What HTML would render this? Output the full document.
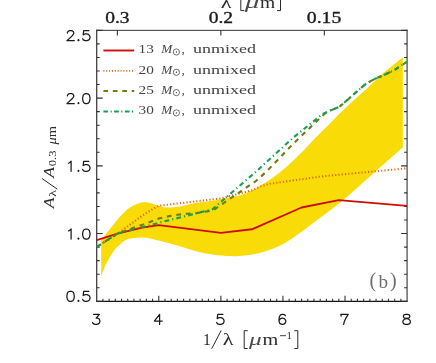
<!DOCTYPE html>
<html><head><meta charset="utf-8"><title>chart</title>
<style>html,body{margin:0;padding:0;background:#fff;font-family:"Liberation Sans",sans-serif}svg{display:block;will-change:transform}</style>
</head><body>
<svg width="436" height="363" viewBox="0 0 436 363">
<rect width="436" height="363" fill="#fff"/>
<polyline points="103.4,50.5 134.2,50.5" fill="none" stroke="#cc0c0c" stroke-width="1.90" stroke-linejoin="round"/>
<polyline points="103.4,70.8 134.2,70.8" fill="none" stroke="#e2641a" stroke-width="1.80" stroke-dasharray="1 1.86" stroke-linejoin="round"/>
<polyline points="103.4,91.1 134.2,91.1" fill="none" stroke="#77780e" stroke-width="2.00" stroke-dasharray="4.7 4.74" stroke-linejoin="round"/>
<polyline points="103.4,111.4 134.2,111.4" fill="none" stroke="#14a058" stroke-width="2.00" stroke-dasharray="4.7 2.4 1.2 2.4" stroke-linejoin="round"/>
<path d="M96.00 30.35H407.85" stroke="#333" stroke-width="1.0" fill="none"/>
<path d="M96.00 301.30H407.85" stroke="#151515" stroke-width="1.2" fill="none"/>
<path d="M96.70 29.80V301.95" stroke="#3a3a3a" stroke-width="1.25" fill="none"/>
<path d="M407.10 29.80V301.95" stroke="#585858" stroke-width="1.35" fill="none"/>
<path d="M102.91 301.30v-2.50 M109.12 301.30v-2.50 M115.32 301.30v-2.50 M121.53 301.30v-2.50 M127.74 301.30v-2.50 M133.95 301.30v-2.50 M140.16 301.30v-2.50 M146.36 301.30v-2.50 M152.57 301.30v-2.50 M158.78 301.30v-5.50 M164.99 301.30v-2.50 M171.20 301.30v-2.50 M177.40 301.30v-2.50 M183.61 301.30v-2.50 M189.82 301.30v-2.50 M196.03 301.30v-2.50 M202.24 301.30v-2.50 M208.44 301.30v-2.50 M214.65 301.30v-2.50 M220.86 301.30v-5.50 M227.07 301.30v-2.50 M233.28 301.30v-2.50 M239.48 301.30v-2.50 M245.69 301.30v-2.50 M251.90 301.30v-2.50 M258.11 301.30v-2.50 M264.32 301.30v-2.50 M270.52 301.30v-2.50 M276.73 301.30v-2.50 M282.94 301.30v-5.50 M289.15 301.30v-2.50 M295.36 301.30v-2.50 M301.56 301.30v-2.50 M307.77 301.30v-2.50 M313.98 301.30v-2.50 M320.19 301.30v-2.50 M326.40 301.30v-2.50 M332.60 301.30v-2.50 M338.81 301.30v-2.50 M345.02 301.30v-5.50 M351.23 301.30v-2.50 M357.44 301.30v-2.50 M363.64 301.30v-2.50 M369.85 301.30v-2.50 M376.06 301.30v-2.50 M382.27 301.30v-2.50 M388.48 301.30v-2.50 M394.68 301.30v-2.50 M400.89 301.30v-2.50 M96.70 301.30h6.00 M407.10 301.30h-6.00 M96.70 287.75h3.00 M407.10 287.75h-3.00 M96.70 274.21h3.00 M407.10 274.21h-3.00 M96.70 260.66h3.00 M407.10 260.66h-3.00 M96.70 247.11h3.00 M407.10 247.11h-3.00 M96.70 233.56h6.00 M407.10 233.56h-6.00 M96.70 220.01h3.00 M407.10 220.01h-3.00 M96.70 206.47h3.00 M407.10 206.47h-3.00 M96.70 192.92h3.00 M407.10 192.92h-3.00 M96.70 179.37h3.00 M407.10 179.37h-3.00 M96.70 165.83h6.00 M407.10 165.83h-6.00 M96.70 152.28h3.00 M407.10 152.28h-3.00 M96.70 138.73h3.00 M407.10 138.73h-3.00 M96.70 125.18h3.00 M407.10 125.18h-3.00 M96.70 111.63h3.00 M407.10 111.63h-3.00 M96.70 98.09h6.00 M407.10 98.09h-6.00 M96.70 84.54h3.00 M407.10 84.54h-3.00 M96.70 70.99h3.00 M407.10 70.99h-3.00 M96.70 57.45h3.00 M407.10 57.45h-3.00 M96.70 43.90h3.00 M407.10 43.90h-3.00 M96.70 30.35h6.00 M407.10 30.35h-6.00 M117.39 30.35v5.2 M220.86 30.35v5.2 M324.33 30.35v5.2" stroke="#333" stroke-width="1.1" fill="none"/>
<path d="M101.2 240.0C101.7 239.4 102.9 237.9 104.2 236.2C105.5 234.5 107.5 232.0 109.1 230.0C110.7 228.0 111.9 226.5 114.0 224.0C116.1 221.5 118.8 217.8 121.5 215.0C124.2 212.2 127.2 209.4 130.0 207.5C132.8 205.6 135.6 204.4 138.0 203.5C140.4 202.6 142.5 202.3 144.5 202.2C146.5 202.1 147.8 202.4 150.0 203.0C152.2 203.6 155.2 204.8 158.0 205.5C160.8 206.2 163.1 207.3 166.8 207.5C170.5 207.7 175.1 207.2 180.0 206.5C184.9 205.8 190.3 204.0 196.0 203.0C201.7 202.0 209.1 201.3 213.9 200.5C218.7 199.7 221.1 199.1 225.0 198.3C228.9 197.6 234.0 196.8 237.3 196.0C240.7 195.2 242.0 194.7 245.1 193.4C248.2 192.1 252.7 190.0 256.0 188.2C259.3 186.4 261.4 185.1 265.0 182.8C268.6 180.5 273.6 177.2 277.5 174.2C281.4 171.2 284.0 169.1 288.5 165.0C293.0 160.9 300.0 154.1 304.6 149.5C309.2 144.9 311.2 142.2 316.0 137.3C320.8 132.4 328.4 124.9 333.4 119.9C338.4 114.9 339.6 113.5 346.0 107.5C352.4 101.5 366.1 89.2 372.0 83.8C377.9 78.3 376.3 79.2 381.4 74.8C386.5 70.4 399.2 60.2 402.8 57.3L402.8 147.6C398.1 151.7 384.7 163.4 374.5 172.4C364.3 181.4 350.8 193.6 341.4 201.4C332.0 209.2 325.1 213.9 317.9 219.4C310.7 224.9 303.5 230.4 298.0 234.3C292.5 238.2 289.4 240.5 285.0 243.0C280.6 245.5 276.6 247.4 271.6 249.2C266.6 251.0 260.5 252.9 255.0 254.0C249.5 255.1 242.7 255.7 238.5 256.0C234.3 256.4 234.4 256.4 230.0 256.1C225.6 255.8 218.7 255.4 212.3 254.4C205.9 253.4 199.2 251.9 191.6 249.9C184.0 247.9 173.7 244.5 166.8 242.6C159.9 240.7 153.5 239.3 150.0 238.5C146.5 237.7 147.7 238.0 146.0 237.8C144.3 237.6 142.0 237.5 140.0 237.5C138.0 237.5 135.8 237.8 134.0 238.0C132.2 238.2 130.4 238.4 129.0 238.8C127.5 239.2 126.5 239.7 125.3 240.3C124.1 240.9 123.0 241.7 122.0 242.5C121.0 243.3 120.3 244.2 119.5 244.9C118.7 245.7 117.9 246.0 117.0 247.0C116.1 248.0 115.0 249.5 114.0 250.8C113.0 252.1 112.0 253.5 111.0 255.0C110.0 256.5 109.3 258.2 108.3 260.0C107.3 261.8 106.0 263.7 105.0 266.0C104.0 268.3 102.9 271.9 102.3 273.6C101.7 275.4 101.4 276.0 101.2 276.5Z" fill="#f9dc07"/>
<polyline points="96.8,240.1 117.5,233.6 142.0,227.6 158.8,225.1 220.9,232.9 251.9,229.3 301.5,207.5 338.8,200.1 407.0,205.9" fill="none" stroke="#cc0c0c" stroke-width="1.90" stroke-linejoin="round"/>
<polyline points="96.8,246.9 118.3,233.2 130.0,224.6 141.3,216.4 150.0,210.6 158.8,205.7 220.9,198.4 251.9,190.3 261.0,186.4 268.3,184.0 286.7,181.3 305.0,178.8 323.4,176.2 359.2,172.8 407.0,168.3" fill="none" stroke="#e2641a" stroke-width="2.00" stroke-dasharray="1.2 2.1" stroke-linejoin="round"/>
<polyline points="96.8,246.9 117.5,233.6 150.0,222.0 158.8,218.6 168.0,216.4 177.5,214.8 187.0,213.7 197.0,213.0 205.0,211.8 213.0,210.3 256.0,181.0 266.5,171.5 294.0,143.0 313.8,124.0 324.9,113.5 330.0,110.6 339.2,107.0 348.3,99.2 357.5,90.9 366.7,83.1 375.9,78.4 385.0,74.5 394.2,70.2 403.0,64.4 407.0,61.8" fill="none" stroke="#77780e" stroke-width="2.10" stroke-dasharray="4.8 4.8" stroke-linejoin="round"/>
<polyline points="96.8,246.9 117.5,233.6 140.0,227.5 150.0,225.3 158.8,222.8 212.5,209.2 256.0,171.6 294.0,137.0 322.7,113.9 330.0,110.6 339.2,107.0 348.3,99.2 357.5,90.9 366.7,83.1 375.9,78.4 385.0,74.5 394.2,70.2 403.0,64.4 407.0,61.8" fill="none" stroke="#14a058" stroke-width="2.10" stroke-dasharray="4.8 3.1 1.2 3.1" stroke-linejoin="round"/>
<path d="M67.42 33.01 L67.42 32.53 L67.95 31.57 L68.48 31.09 L69.53 30.61 L71.62 30.61 L72.67 31.09 L73.20 31.57 L73.73 32.53 L73.73 33.49 L73.20 34.45 L72.15 35.89 L66.90 40.69 L74.25 40.69 M78.45 39.73 L77.93 40.21 L78.45 40.69 L78.98 40.21 L78.45 39.73 M88.95 30.61 L83.70 30.61 L83.18 34.93 L83.70 34.45 L85.28 33.97 L86.85 33.97 L88.43 34.45 L89.48 35.41 L90.00 36.85 L90.00 37.81 L89.48 39.25 L88.43 40.21 L86.85 40.69 L85.28 40.69 L83.70 40.21 L83.18 39.73 L82.65 38.77" fill="none" stroke="#1a1a1a" stroke-width="1.25" stroke-linecap="round" stroke-linejoin="round"/>
<path d="M67.42 95.95 L67.42 95.47 L67.95 94.51 L68.48 94.03 L69.53 93.55 L71.62 93.55 L72.67 94.03 L73.20 94.51 L73.73 95.47 L73.73 96.43 L73.20 97.39 L72.15 98.83 L66.90 103.63 L74.25 103.63 M78.45 102.67 L77.93 103.15 L78.45 103.63 L78.98 103.15 L78.45 102.67 M85.80 93.55 L84.23 94.03 L83.18 95.47 L82.65 97.87 L82.65 99.31 L83.18 101.71 L84.23 103.15 L85.80 103.63 L86.85 103.63 L88.43 103.15 L89.48 101.71 L90.00 99.31 L90.00 97.87 L89.48 95.47 L88.43 94.03 L86.85 93.55 L85.80 93.55" fill="none" stroke="#1a1a1a" stroke-width="1.25" stroke-linecap="round" stroke-linejoin="round"/>
<path d="M68.48 163.21 L69.53 162.73 L71.10 161.28 L71.10 171.37 M78.45 170.41 L77.93 170.89 L78.45 171.37 L78.98 170.89 L78.45 170.41 M88.95 161.28 L83.70 161.28 L83.18 165.61 L83.70 165.12 L85.28 164.65 L86.85 164.65 L88.43 165.12 L89.48 166.09 L90.00 167.53 L90.00 168.49 L89.48 169.93 L88.43 170.89 L86.85 171.37 L85.28 171.37 L83.70 170.89 L83.18 170.41 L82.65 169.45" fill="none" stroke="#1a1a1a" stroke-width="1.25" stroke-linecap="round" stroke-linejoin="round"/>
<path d="M68.48 230.94 L69.53 230.46 L71.10 229.02 L71.10 239.10 M78.45 238.14 L77.93 238.62 L78.45 239.10 L78.98 238.62 L78.45 238.14 M85.80 229.02 L84.23 229.50 L83.18 230.94 L82.65 233.34 L82.65 234.78 L83.18 237.18 L84.23 238.62 L85.80 239.10 L86.85 239.10 L88.43 238.62 L89.48 237.18 L90.00 234.78 L90.00 233.34 L89.48 230.94 L88.43 229.50 L86.85 229.02 L85.80 229.02" fill="none" stroke="#1a1a1a" stroke-width="1.25" stroke-linecap="round" stroke-linejoin="round"/>
<path d="M70.05 291.26 L68.48 291.74 L67.42 293.18 L66.90 295.58 L66.90 297.02 L67.42 299.42 L68.48 300.86 L70.05 301.34 L71.10 301.34 L72.67 300.86 L73.73 299.42 L74.25 297.02 L74.25 295.58 L73.73 293.18 L72.67 291.74 L71.10 291.26 L70.05 291.26 M78.45 300.38 L77.93 300.86 L78.45 301.34 L78.98 300.86 L78.45 300.38 M88.95 291.26 L83.70 291.26 L83.18 295.58 L83.70 295.10 L85.28 294.62 L86.85 294.62 L88.43 295.10 L89.48 296.06 L90.00 297.50 L90.00 298.46 L89.48 299.90 L88.43 300.86 L86.85 301.34 L85.28 301.34 L83.70 300.86 L83.18 300.38 L82.65 299.42" fill="none" stroke="#1a1a1a" stroke-width="1.25" stroke-linecap="round" stroke-linejoin="round"/>
<path d="M93.58 314.36 L99.35 314.36 L96.20 318.20 L97.78 318.20 L98.83 318.68 L99.35 319.16 L99.88 320.60 L99.88 321.56 L99.35 323.00 L98.30 323.96 L96.73 324.44 L95.15 324.44 L93.58 323.96 L93.05 323.48 L92.53 322.52" fill="none" stroke="#1a1a1a" stroke-width="1.25" stroke-linecap="round" stroke-linejoin="round"/>
<path d="M159.59 314.36 L154.34 321.08 L162.22 321.08 M159.59 314.36 L159.59 324.44" fill="none" stroke="#1a1a1a" stroke-width="1.25" stroke-linecap="round" stroke-linejoin="round"/>
<path d="M222.99 314.36 L217.74 314.36 L217.21 318.68 L217.74 318.20 L219.31 317.72 L220.89 317.72 L222.46 318.20 L223.51 319.16 L224.04 320.60 L224.04 321.56 L223.51 323.00 L222.46 323.96 L220.89 324.44 L219.31 324.44 L217.74 323.96 L217.21 323.48 L216.69 322.52" fill="none" stroke="#1a1a1a" stroke-width="1.25" stroke-linecap="round" stroke-linejoin="round"/>
<path d="M285.33 315.80 L284.80 314.84 L283.23 314.36 L282.18 314.36 L280.60 314.84 L279.55 316.28 L279.03 318.68 L279.03 321.08 L279.55 323.00 L280.60 323.96 L282.18 324.44 L282.70 324.44 L284.28 323.96 L285.33 323.00 L285.85 321.56 L285.85 321.08 L285.33 319.64 L284.28 318.68 L282.70 318.20 L282.18 318.20 L280.60 318.68 L279.55 319.64 L279.03 321.08" fill="none" stroke="#1a1a1a" stroke-width="1.25" stroke-linecap="round" stroke-linejoin="round"/>
<path d="M341.16 316.04 L340.85 314.36 L348.20 314.36 L345.57 318.68 L344.15 322.04 L343.63 324.44" fill="none" stroke="#1a1a1a" stroke-width="1.25" stroke-linecap="round" stroke-linejoin="round"/>
<path d="M405.55 314.36 L403.98 314.84 L403.45 315.80 L403.45 316.76 L403.98 317.72 L405.03 318.20 L407.12 318.68 L408.70 319.16 L409.75 320.12 L410.28 321.08 L410.28 322.52 L409.75 323.48 L409.23 323.96 L407.65 324.44 L405.55 324.44 L403.98 323.96 L403.45 323.48 L402.93 322.52 L402.93 321.08 L403.45 320.12 L404.50 319.16 L406.08 318.68 L408.18 318.20 L409.23 317.72 L409.75 316.76 L409.75 315.80 L409.23 314.84 L407.65 314.36 L405.55 314.36" fill="none" stroke="#1a1a1a" stroke-width="1.25" stroke-linecap="round" stroke-linejoin="round"/>
<text x="105.20" y="22.50" font-size="16.30" font-family="Liberation Serif, serif" text-anchor="start" fill="#1c1c1c" textLength="24.4" lengthAdjust="spacingAndGlyphs" stroke="#1c1c1c" stroke-width="0.35">0.3</text>
<text x="208.70" y="22.50" font-size="16.30" font-family="Liberation Serif, serif" text-anchor="start" fill="#1c1c1c" textLength="24.4" lengthAdjust="spacingAndGlyphs" stroke="#1c1c1c" stroke-width="0.35">0.2</text>
<text x="306.80" y="22.50" font-size="16.30" font-family="Liberation Serif, serif" text-anchor="start" fill="#1c1c1c" textLength="34.6" lengthAdjust="spacingAndGlyphs" stroke="#1c1c1c" stroke-width="0.35">0.15</text>
<text x="220.80" y="7.50" font-size="15.70" font-family="Liberation Serif, serif" text-anchor="start" fill="#2a2a2a" textLength="10.7" lengthAdjust="spacingAndGlyphs" >λ</text>
<path d="M244.3 -7H240.8V10.6H244.3" stroke="#2a2a2a" stroke-width="1" fill="none"/>
<text x="244.80" y="7.50" font-size="15.70" font-family="Liberation Serif, serif" text-anchor="start" fill="#4a4a4a" textLength="14.5" lengthAdjust="spacingAndGlyphs" ><tspan font-style="italic">μ</tspan></text>
<text x="260.00" y="7.50" font-size="15.70" font-family="Liberation Serif, serif" text-anchor="start" fill="#2a2a2a" textLength="15.2" lengthAdjust="spacingAndGlyphs" >m</text>
<path d="M277 -7H280.5V10.6H277" stroke="#2a2a2a" stroke-width="1" fill="none"/>
<text x="138.50" y="53.20" font-size="13.20" font-family="Liberation Serif, serif" text-anchor="start" fill="#444" textLength="15.3" lengthAdjust="spacingAndGlyphs" >13</text>
<text x="161.20" y="53.20" font-size="13.20" font-family="Liberation Serif, serif" text-anchor="start" fill="#444" textLength="11.0" lengthAdjust="spacingAndGlyphs" ><tspan font-style="italic">M</tspan></text>
<circle cx="176.4" cy="52.00" r="3.1" fill="none" stroke="#333" stroke-width="0.7"/><circle cx="176.4" cy="52.00" r="0.7" fill="#333"/>
<text x="181.60" y="53.20" font-size="13.20" font-family="Liberation Serif, serif" text-anchor="start" fill="#444" >,</text>
<text x="192.90" y="53.20" font-size="13.20" font-family="Liberation Serif, serif" text-anchor="start" fill="#444" textLength="63.0" lengthAdjust="spacingAndGlyphs" >unmixed</text>
<text x="138.50" y="73.50" font-size="13.20" font-family="Liberation Serif, serif" text-anchor="start" fill="#444" textLength="15.3" lengthAdjust="spacingAndGlyphs" >20</text>
<text x="161.20" y="73.50" font-size="13.20" font-family="Liberation Serif, serif" text-anchor="start" fill="#444" textLength="11.0" lengthAdjust="spacingAndGlyphs" ><tspan font-style="italic">M</tspan></text>
<circle cx="176.4" cy="72.30" r="3.1" fill="none" stroke="#333" stroke-width="0.7"/><circle cx="176.4" cy="72.30" r="0.7" fill="#333"/>
<text x="181.60" y="73.50" font-size="13.20" font-family="Liberation Serif, serif" text-anchor="start" fill="#444" >,</text>
<text x="192.90" y="73.50" font-size="13.20" font-family="Liberation Serif, serif" text-anchor="start" fill="#444" textLength="63.0" lengthAdjust="spacingAndGlyphs" >unmixed</text>
<text x="138.50" y="93.80" font-size="13.20" font-family="Liberation Serif, serif" text-anchor="start" fill="#444" textLength="15.3" lengthAdjust="spacingAndGlyphs" >25</text>
<text x="161.20" y="93.80" font-size="13.20" font-family="Liberation Serif, serif" text-anchor="start" fill="#444" textLength="11.0" lengthAdjust="spacingAndGlyphs" ><tspan font-style="italic">M</tspan></text>
<circle cx="176.4" cy="92.60" r="3.1" fill="none" stroke="#333" stroke-width="0.7"/><circle cx="176.4" cy="92.60" r="0.7" fill="#333"/>
<text x="181.60" y="93.80" font-size="13.20" font-family="Liberation Serif, serif" text-anchor="start" fill="#444" >,</text>
<text x="192.90" y="93.80" font-size="13.20" font-family="Liberation Serif, serif" text-anchor="start" fill="#444" textLength="63.0" lengthAdjust="spacingAndGlyphs" >unmixed</text>
<text x="138.50" y="114.10" font-size="13.20" font-family="Liberation Serif, serif" text-anchor="start" fill="#444" textLength="15.3" lengthAdjust="spacingAndGlyphs" >30</text>
<text x="161.20" y="114.10" font-size="13.20" font-family="Liberation Serif, serif" text-anchor="start" fill="#444" textLength="11.0" lengthAdjust="spacingAndGlyphs" ><tspan font-style="italic">M</tspan></text>
<circle cx="176.4" cy="112.90" r="3.1" fill="none" stroke="#333" stroke-width="0.7"/><circle cx="176.4" cy="112.90" r="0.7" fill="#333"/>
<text x="181.60" y="114.10" font-size="13.20" font-family="Liberation Serif, serif" text-anchor="start" fill="#444" >,</text>
<text x="192.90" y="114.10" font-size="13.20" font-family="Liberation Serif, serif" text-anchor="start" fill="#444" textLength="63.0" lengthAdjust="spacingAndGlyphs" >unmixed</text>
<text x="369.60" y="287.40" font-size="20.00" font-family="Liberation Serif, serif" text-anchor="start" fill="#6e6e6e" >(</text>
<text x="378.60" y="288.30" font-size="18.20" font-family="Liberation Serif, serif" text-anchor="start" fill="#6e6e6e" textLength="9.6" lengthAdjust="spacingAndGlyphs" >b</text>
<text x="390.00" y="287.40" font-size="20.00" font-family="Liberation Serif, serif" text-anchor="start" fill="#6e6e6e" >)</text>
<text x="203.00" y="345.30" font-size="15.70" font-family="Liberation Serif, serif" text-anchor="start" fill="#2a2a2a" >1</text>
<path d="M211.7 348.7L221.2 330.5" stroke="#2a2a2a" stroke-width="1" fill="none"/>
<text x="222.70" y="345.30" font-size="15.70" font-family="Liberation Serif, serif" text-anchor="start" fill="#2a2a2a" textLength="10.7" lengthAdjust="spacingAndGlyphs" >λ</text>
<path d="M247.7 330.7H244.2V348.5H247.7" stroke="#2a2a2a" stroke-width="1" fill="none"/>
<text x="248.90" y="345.30" font-size="15.70" font-family="Liberation Serif, serif" text-anchor="start" fill="#4a4a4a" textLength="12.7" lengthAdjust="spacingAndGlyphs" ><tspan font-style="italic">μ</tspan></text>
<text x="262.50" y="345.30" font-size="15.70" font-family="Liberation Serif, serif" text-anchor="start" fill="#2a2a2a" textLength="15.8" lengthAdjust="spacingAndGlyphs" >m</text>
<path d="M280 335.7H286" stroke="#2a2a2a" stroke-width="0.9" fill="none"/>
<text x="286.50" y="338.80" font-size="10.80" font-family="Liberation Serif, serif" text-anchor="start" fill="#2a2a2a" >1</text>
<path d="M294.3 330.7H297.8V348.5H294.3" stroke="#2a2a2a" stroke-width="1" fill="none"/>
<g transform="translate(53.8,208) rotate(-90)">
<text x="-0.30" y="0.00" font-size="15.00" font-family="Liberation Serif, serif" text-anchor="start" fill="#2a2a2a" textLength="10.8" lengthAdjust="spacingAndGlyphs" ><tspan font-style="italic">A</tspan></text>
<text x="11.20" y="1.80" font-size="10.30" font-family="Liberation Serif, serif" text-anchor="start" fill="#2a2a2a" textLength="6.8" lengthAdjust="spacingAndGlyphs" >λ</text>
<path d="M18.8 3.5L29.5 -11.8" stroke="#2a2a2a" stroke-width="1" fill="none"/>
<text x="30.20" y="0.00" font-size="15.00" font-family="Liberation Serif, serif" text-anchor="start" fill="#2a2a2a" textLength="10.8" lengthAdjust="spacingAndGlyphs" ><tspan font-style="italic">A</tspan></text>
<text x="41.80" y="2.20" font-size="10.60" font-family="Liberation Serif, serif" text-anchor="start" fill="#2a2a2a" textLength="15.8" lengthAdjust="spacingAndGlyphs" >0.3</text>
<text x="63.50" y="1.80" font-size="12.30" font-family="Liberation Serif, serif" text-anchor="start" fill="#2a2a2a" textLength="18.5" lengthAdjust="spacingAndGlyphs" ><tspan font-style="italic">μ</tspan>m</text>
</g>
</svg>
</body></html>
